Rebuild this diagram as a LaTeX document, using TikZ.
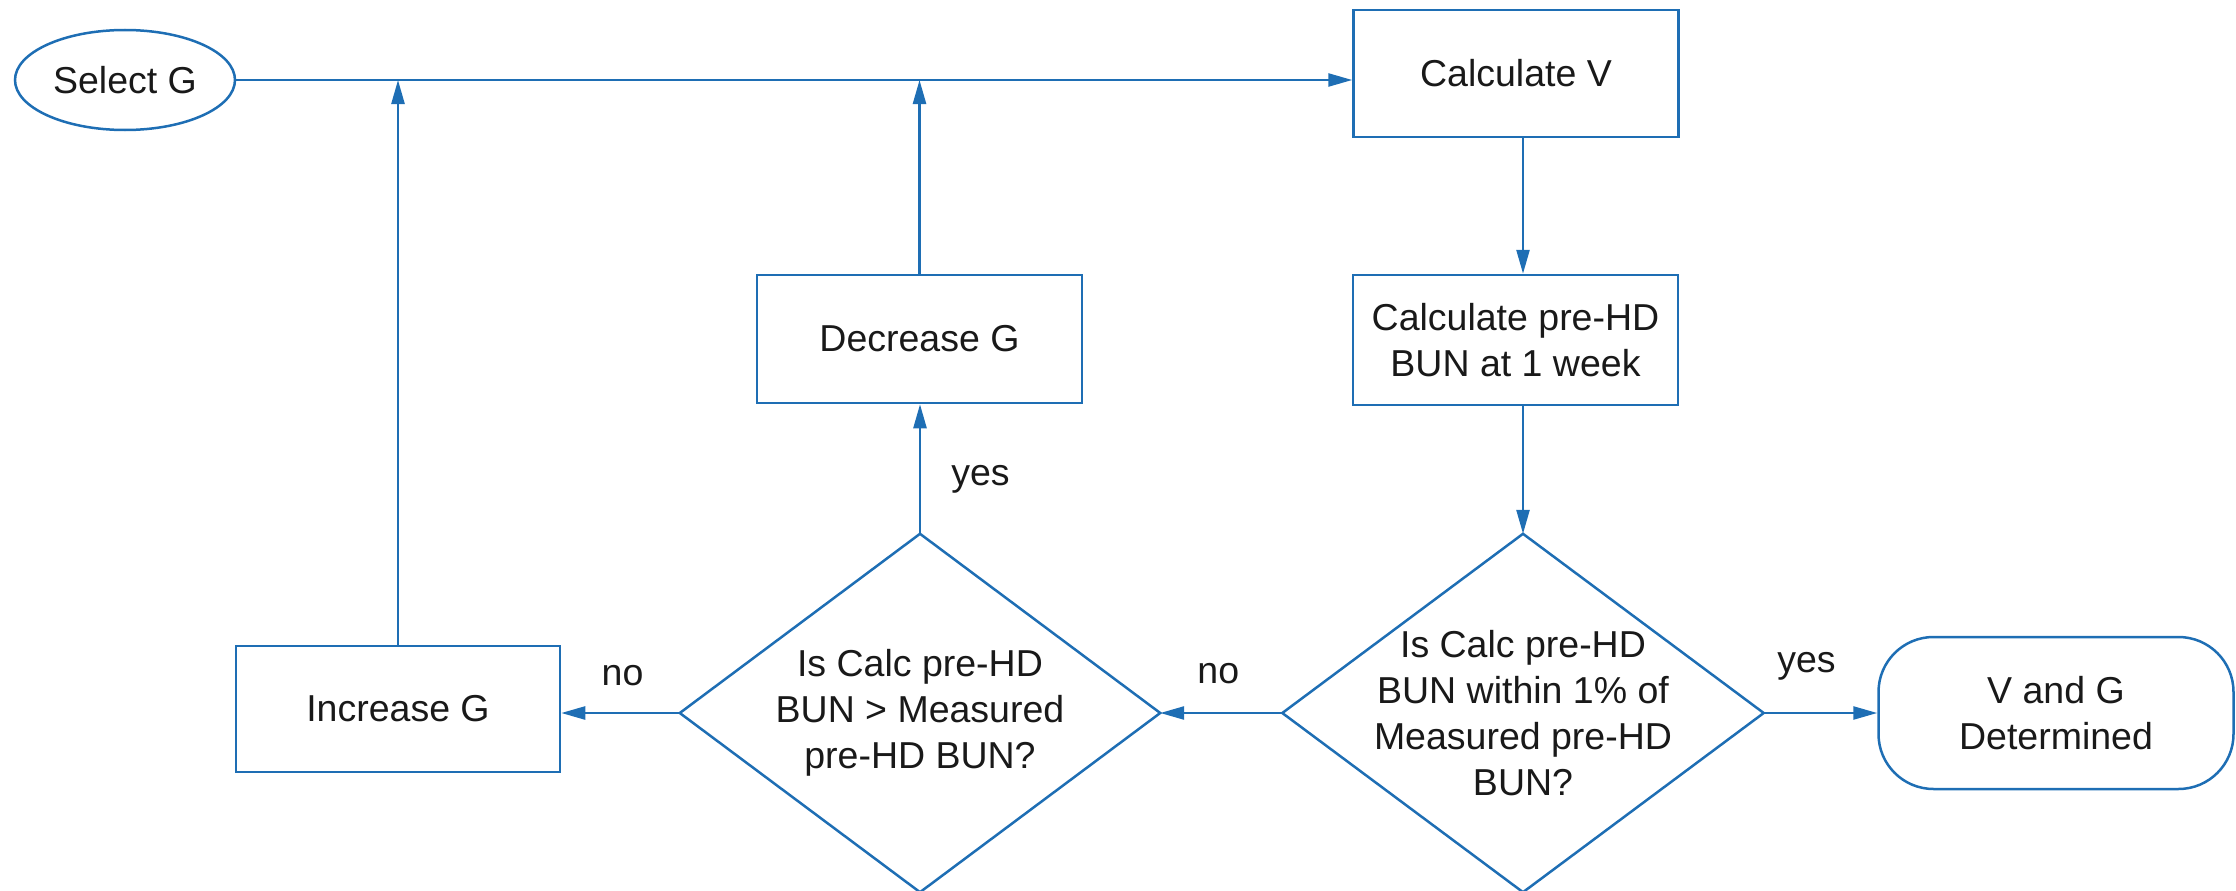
\documentclass[tikz,border=0pt]{standalone}
\usepackage{fontspec}
\setmainfont{Liberation Sans}
\usetikzlibrary{shapes.geometric,arrows.meta}
\definecolor{flowblue}{RGB}{30,110,180}
\definecolor{inkgray}{RGB}{25,25,25}
\begin{document}
\begin{tikzpicture}[x=1pt,y=-1pt,
  every node/.style={font=\fontsize{37.5}{46}\selectfont, text=inkgray},
  outline/.style={draw=flowblue, line width=2.5pt},
  proc/.style={outline, rectangle, minimum width=325pt, minimum height=127pt,
               align=center, inner sep=0pt},
  startnode/.style={outline, ellipse, minimum width=220pt, minimum height=100pt,
                    inner sep=0pt},
  endnode/.style={outline, rectangle, rounded corners=55pt, minimum width=355pt,
                  minimum height=152pt, align=center, inner sep=0pt},
  decision/.style={rectangle, minimum width=480pt, minimum height=358pt,
                   align=center, inner sep=0pt},
  conn/.style={draw=flowblue, line width=2.5pt,
               -{Triangle[length=24pt,width=13pt]}},
  lbl/.style={inner sep=0pt}
]
\useasboundingbox (0,0) rectangle (2236,891);

% nodes
\node[startnode] (sel) at (125,80) {Select G};
\node[proc] (calcV) at (1516,73.5) {Calculate V};
\node[proc, minimum height=130pt] (calcBUN) at (1515.5,340) {Calculate pre-HD\\BUN at 1 week};
\node[proc, minimum height=128pt] (dec) at (919.5,339) {Decrease G};
\node[proc, minimum width=324pt, minimum height=126pt] (inc) at (398,709) {Increase G};
\node[decision] (d1) at (920,713) {Is Calc pre-HD\\BUN > Measured\\pre-HD BUN?};
\node[decision, minimum width=481pt] (d2) at (1523,713) {Is Calc pre-HD\\BUN within 1\% of\\Measured pre-HD\\BUN?};
\node[endnode] (done) at (2056,713) {V and G\\Determined};

% decision outlines
\draw[outline, line join=miter] (d1.north) -- (d1.east) -- (d1.south) -- (d1.west) -- cycle;
\draw[outline, line join=miter] (d2.north) -- (d2.east) -- (d2.south) -- (d2.west) -- cycle;

% connectors
\draw[conn] (sel.east) -- (sel.east -| calcV.west);
\draw[conn] (calcV.south -| d2.north) -- (calcBUN.north -| d2.north);
\draw[conn] (calcBUN.south -| d2.north) -- (d2.north);
\draw[conn] (d2.east) -- node[lbl, midway, xshift=-14pt, yshift=47pt] {yes} (done.west);
\draw[conn] (d2.west) -- node[lbl, midway, xshift=-3pt, yshift=39pt] {no} (d1.east);
\draw[conn] (d1.west) -- node[lbl, midway, xshift=2pt, yshift=37pt] {no} (d1.west -| inc.east);
\draw[conn] (d1.north) -- node[lbl, midway, anchor=west, xshift=30pt, yshift=-10pt] {yes} (d1.north |- dec.south);
\draw[conn] (dec.north) -- (dec.north |- sel.east);
\draw[conn] (inc.north) -- (inc.north |- sel.east);
\end{tikzpicture}
\end{document}
